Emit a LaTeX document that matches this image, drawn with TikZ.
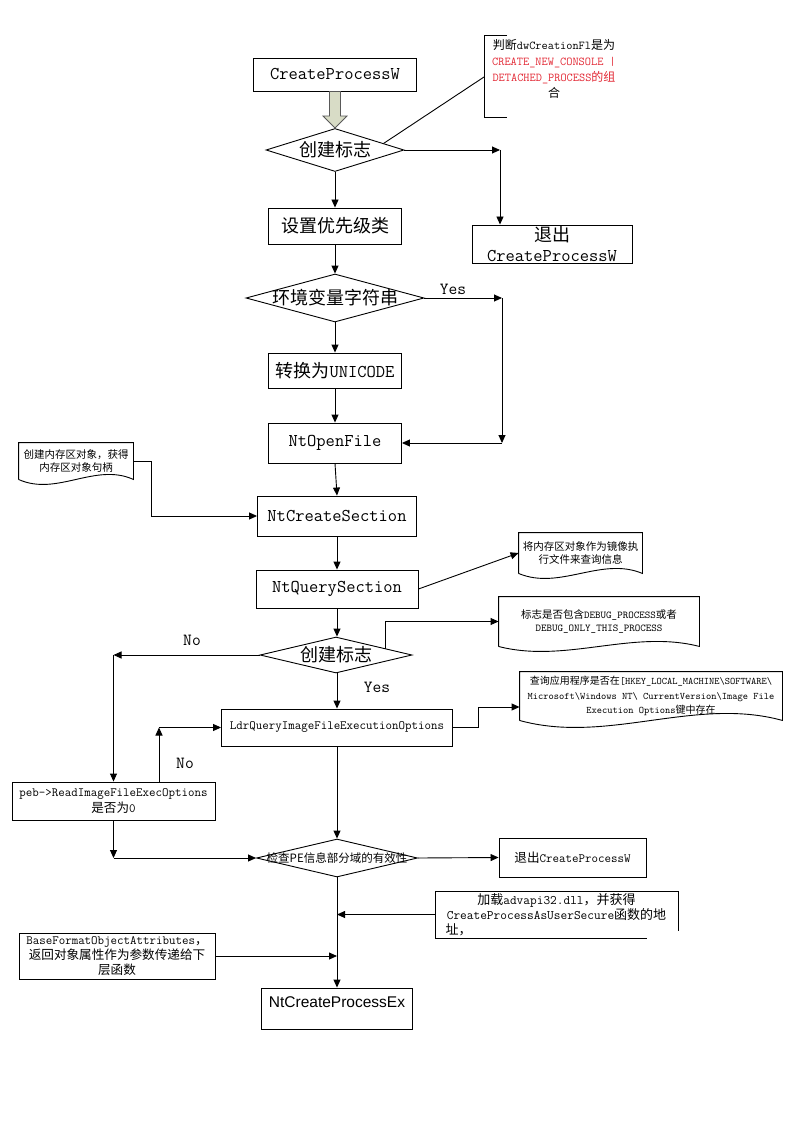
\documentclass[tikz,border=0pt]{standalone}
\usepackage{fontspec}
\newfontfamily\zh{Noto Sans CJK SC}
\newfontfamily\arial{Liberation Sans}
\usetikzlibrary{arrows.meta,shapes.geometric,calc}
\definecolor{R}{RGB}{226, 40, 52}
\definecolor{F}{RGB}{216, 220, 198}

\tikzset{
  txt/.style={font=\ttfamily\fontsize{18}{20}\selectfont},
  proc/.style={draw, rectangle, inner sep=1pt, txt},
  smalltxt/.style={font=\ttfamily\fontsize{12.6}{16}\selectfont},
  cond/.style={draw, diamond, inner sep=0pt},
  docnode/.style={inner sep=1pt, align=center, font=\ttfamily\fontsize{10.5}{13}\selectfont},
  lbl/.style={font=\ttfamily\fontsize{17}{20}\selectfont},
  arr/.style={-{Triangle[length=8pt,width=7pt]}},
  bigarrow/.style={draw=black!65, fill=F, line width=0.8pt}
}

% contour of a document: straight top and sides, wavy bottom
\newcommand\docshape[2]{%
  \draw (#1.south west) -- (#1.north west) -- (#1.north east) -- (#1.south east)
    .. controls ($(#1.south east)!0.333!(#1.south west)+(0,-3.46*#2)$)
       and ($(#1.south east)!0.667!(#1.south west)+(0,3.46*#2)$) .. (#1.south west);
}

\begin{document}
\begin{tikzpicture}[x=1pt, y=-1pt, line width=0.9pt]
  \useasboundingbox (0,0) rectangle (796,1123);

  %Bloques principales
  \node[proc, minimum width=163pt, minimum height=33pt] (cpw) at (335,74.5) {CreateProcessW};
  \node[cond, minimum width=138pt, minimum height=43pt, label={[txt]center:{\zh 创建标志}}] (flag1) at (335,150) {};
  \node[proc, minimum width=133pt, minimum height=36pt] (prio) at (335,226) {\zh 设置优先级类};
  \node[cond, minimum width=178pt, minimum height=48pt, label={[txt]center:{\zh 环境变量字符串}}] (env) at (335,298) {};
  \node[proc, minimum width=133pt, minimum height=35pt] (uni) at (335,370.5) {{\zh 转换为}UNICODE};
  \node[proc, minimum width=133pt, minimum height=40pt] (openf) at (335,443) {NtOpenFile};
  \node[proc, minimum width=159pt, minimum height=40pt] (csec) at (337,516) {NtCreateSection};
  \node[proc, minimum width=162pt, minimum height=38pt] (qsec) at (337,589) {NtQuerySection};
  \node[cond, minimum width=152pt, minimum height=36pt, label={[txt]center:{\zh 创建标志}}] (flag2) at (336,655) {};
  \node[proc, smalltxt, minimum width=231pt, minimum height=37pt] (ldr) at (337,727.5) {LdrQueryImageFileExecutionOptions};
  \node[cond, minimum width=161pt, minimum height=38pt,
        label={[font=\zh\fontsize{11.5}{13}\selectfont, inner sep=0pt]center:{检查PE信息部分域的有效性}}] (pechk) at (337,858) {};
  \node[proc, minimum width=151pt, minimum height=41pt, text depth=12pt,
        font=\arial\fontsize{15.5}{18}\selectfont] (ntcpe) at (337,1008.5) {NtCreateProcessEx};

  %Bloques laterales
  \node[proc, align=center, inner sep=0pt, minimum width=160pt, minimum height=38pt] (exit1) at (552,244) {{\zh 退出}\\CreateProcessW};
  \node[proc, smalltxt, align=center, minimum width=203pt, minimum height=38pt] (peb) at (113.5,801) {peb->ReadImageFileExecOptions\\{\zh 是否为}0};
  \node[proc, smalltxt, minimum width=147pt, minimum height=39pt] (exit2) at (572.5,857.5) {{\zh 退出}CreateProcessW};
  \node[proc, align=center, minimum width=243pt, minimum height=47pt, inner sep=0pt,
        font=\ttfamily\fontsize{13}{15}\selectfont] (advapi) at (556.5,914.5)
        {{\zh 加载}advapi32.dll{\zh ，并获得}\\CreateProcessAsUserSecure{\zh 函数的地}\\\makebox[222pt][l]{\zh 址，}};
  \fill[white] (647,931) rectangle (681,941);
  \node[proc, align=center, minimum width=196pt, minimum height=46pt, inner sep=0pt,
        font=\ttfamily\fontsize{12.6}{15}\selectfont] (base) at (117,956)
        {BaseFormatObjectAttributes{\zh ，}\\{\zh 返回对象属性作为参数传递给下}\\{\zh 层函数}};

  %Documentos
  \node[docnode, minimum width=114pt, minimum height=36pt] (mem) at (76,461) {{\zh 创建内存区对象，获得}\\{\zh 内存区对象句柄}};
  \docshape{mem}{5}
  \node[docnode, minimum width=123pt, minimum height=40pt] (img) at (580.5,553) {{\zh 将内存区对象作为镜像执}\\{\zh 行文件来查询信息}};
  \docshape{img}{5}
  \node[docnode, minimum width=200pt, minimum height=49pt] (dbg) at (599,621.5) {{\zh 标志是否包含}DEBUG\_PROCESS{\zh 或者}\\DEBUG\_ONLY\_THIS\_PROCESS};
  \docshape{dbg}{5}
  \node[docnode, minimum width=262pt, minimum height=48pt, font=\ttfamily\fontsize{10}{14.5}\selectfont] (reg) at (651,696)
        {{\zh 查询应用程序是否在}[HKEY\_LOCAL\_MACHINE\textbackslash SOFTWARE\textbackslash\\Microsoft\textbackslash Windows NT\textbackslash{} CurrentVersion\textbackslash Image File\\Execution Options{\zh 键中存在}};
  \docshape{reg}{7}

  %Nota del primer rombo
  \node[align=center, font=\ttfamily\fontsize{12}{16}\selectfont] (flagnote) at (554,69)
        {{\zh 判断}dwCreationFl{\zh 是为}\\\textcolor{R}{CREATE\_NEW\_CONSOLE |}\\\textcolor{R}{DETACHED\_PROCESS{\zh 的组}}\\{\zh 合}};
  \coordinate (brk) at (484,77);
  \draw (brk) ++(23,-42) -- ++(-23,0) -- ++(0,82) -- ++(23,0);
  \draw ($(flag1.north)!0.7!(flag1.east)$) -- (brk);

  %Flecha gruesa
  \draw[bigarrow] ([xshift=-5.5pt]cpw.south) -- ([xshift=-5.5pt,yshift=12pt]flag1.north)
     -- ([xshift=-12pt,yshift=12pt]flag1.north) -- (flag1.north)
     -- ([xshift=12pt,yshift=12pt]flag1.north) -- ([xshift=5.5pt,yshift=12pt]flag1.north)
     -- ([xshift=5.5pt]cpw.south) -- cycle;

  %Columna central
  \draw[arr] (flag1.south) -- (prio.north);
  \draw[arr] (prio.south) -- (env.north);
  \draw[arr] (env.south) -- (uni.north);
  \draw[arr] (uni.south) -- (openf.north);
  \draw[arr] (openf.south) -- (csec.north);
  \draw[arr] (csec.south) -- (qsec.north);
  \draw[arr] (qsec.south) -- (flag2.north -| qsec.south);
  \draw[arr] (flag2.south -| ldr.north) -- (ldr.north);
  \draw[arr] (ldr.south) -- (pechk.north);
  \draw[arr] (pechk.south) -- (ntcpe.north);

  %Salida del primer rombo
  \coordinate (c1) at (500,150);
  \draw[arr] (flag1.east) -- (c1);
  \draw[arr] (c1) -- (c1 |- exit1.north);

  %Yes del segundo rombo
  \coordinate (c2) at (502,298);
  \coordinate (c3) at (c2 |- openf.east);
  \draw[arr] (env.east) -- (c2);
  \draw[arr] (c2) -- (c3);
  \draw[arr] (c3) -- (openf.east);
  \node[lbl] (yes1) at (453,289) {Yes};

  %Documentos laterales
  \draw[arr] (mem.east) -- ++(18,0) |- (csec.west);
  \draw[arr] (qsec.east) -- (img.west);
  \draw[arr] ($(flag2.north)!0.65!(flag2.east)$) |- (dbg.west);
  \draw[arr] (ldr.east) -- ++(25,0) |- ([yshift=-11pt]reg.west);

  %No / Yes del tercer rombo
  \coordinate (c4) at (flag2.west -| peb.north);
  \draw[arr] (flag2.west) -- (c4);
  \draw[arr] (c4) -- (peb.north);
  \node[lbl] (no1) at (192,640) {No};
  \node[lbl] (yes2) at (377,687) {Yes};

  \coordinate (c5) at (159,727.5);
  \draw[arr] (c5 |- peb.north) -- (c5);
  \draw[arr] (c5) -- (ldr.west);
  \node[lbl] (no2) at (185,763) {No};

  \coordinate (c6) at (peb.south |- pechk.west);
  \draw[arr] (peb.south) -- (c6);
  \draw[arr] (c6) -- (pechk.west);

  %Parte inferior
  \draw[arr] (pechk.east) -- (exit2.west);
  \draw[arr] (advapi.west) -- (advapi.west -| pechk.south);
  \draw[arr] (base.east) -- (base.east -| pechk.south);
\end{tikzpicture}
\end{document}
